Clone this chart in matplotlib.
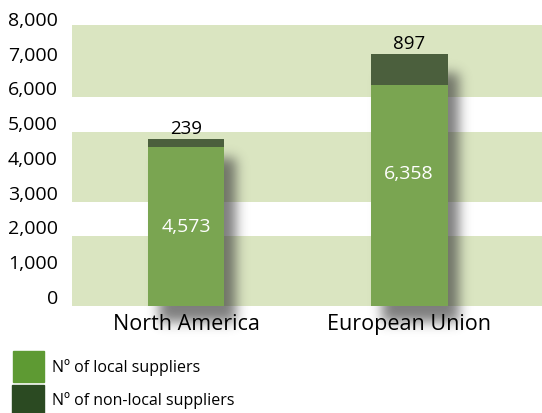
import numpy as np
import matplotlib
matplotlib.use("Agg")
import matplotlib.pyplot as plt
from matplotlib.transforms import ScaledTranslation

categories = ["North America", "European Union"]
local_suppliers = [4573, 6358]
nonlocal_suppliers = [239, 897]
local_labels = ["4,573", "6,358"]
nonlocal_labels = ["239", "897"]
yticks = [0, 1000, 2000, 3000, 4000, 5000, 6000, 7000, 8000]
ytick_labels = ["0", "1,000", "2,000", "3,000", "4,000", "5,000", "6,000", "7,000", "8,000"]
legend_labels = ["Nº of local suppliers", "Nº of non-local suppliers"]

plt.rcParams['font.family'] = ['Open Sans', 'DejaVu Sans']

W, H = 542, 414
fig = plt.figure(figsize=(W / 100, H / 100), dpi=100)
rect = [72 / W, (H - 307) / H, (W - 72) / W, (307 - 26) / H]
YMAX = 8080
XL = (-0.511, 1.596)

# background axes with bands
axb = fig.add_axes(rect, zorder=0)
axb.set_ylim(0, YMAX)
axb.set_xlim(*XL)
band = "#dae5c1"
for lo, hi in [(0, 2000), (3000, 5000), (6000, YMAX)]:
    axb.axhspan(lo, hi, color=band, lw=0)
axb.axis('off')

ax = fig.add_axes(rect, zorder=2)
ax.patch.set_visible(False)
ax.set_ylim(0, YMAX)
ax.set_xlim(*XL)

x = np.arange(len(categories))
bw = 0.345
c_local = "#7aa551"
c_non = "#4b5f3d"
b1 = ax.bar(x, local_suppliers, bw, color=c_local, zorder=3)
b2 = ax.bar(x, nonlocal_suppliers, bw, bottom=local_suppliers, color=c_non, zorder=3)

# blurred drop shadow computed from the bars' pixel extents
fig.canvas.draw()
alpha = np.zeros((H, W))
for r1, r2 in zip(b1, b2):
    bb = r1.get_window_extent()
    tb = r2.get_window_extent()
    x0, x1 = bb.x0 + 12, bb.x1 + 12
    ytop = H - tb.y1 + 20
    ybot = H - bb.y0 + 16
    alpha[int(ytop):int(ybot), int(x0):int(x1)] = 1.0
sig = 6
k = np.arange(-3 * sig, 3 * sig + 1)
g = np.exp(-k**2 / (2 * sig**2)); g /= g.sum()
alpha = np.apply_along_axis(lambda r: np.convolve(r, g, mode='same'), 1, alpha)
alpha = np.apply_along_axis(lambda c: np.convolve(c, g, mode='same'), 0, alpha)
rgba = np.zeros((H, W, 4))
rgba[..., :3] = 0.22
rgba[..., 3] = alpha * 0.65
fig.figimage(rgba, 0, 0, origin='upper', zorder=1)

for i in range(len(categories)):
    tot = local_suppliers[i] + nonlocal_suppliers[i]
    ax.text(x[i], tot + 50, nonlocal_labels[i], ha='center', va='bottom',
            fontsize=13.5, color='black', zorder=4)
ax.text(x[0], local_suppliers[0] * 0.5, local_labels[0], ha='center', va='center',
        fontsize=14, color='white', zorder=4)
ax.text(x[1], local_suppliers[1] * 0.6, local_labels[1], ha='center', va='center',
        fontsize=14, color='white', zorder=4)

# y tick labels, drawn slightly above their gridline positions as in the reference
ax.set_yticks(yticks)
ax.set_yticklabels([])
ax.tick_params(axis='y', length=0)
off = ScaledTranslation(-14 / 100, 8 / 100, fig.dpi_scale_trans)
ytr = ax.get_yaxis_transform() + off
for v, lab in zip(yticks, ytick_labels):
    ax.text(0, v, lab, transform=ytr, ha='right', va='center', fontsize=14,
            color='#000000', clip_on=False, zorder=5)

ax.set_xticks(x)
ax.set_xticklabels(categories, fontsize=15.5, color='#000000')
ax.tick_params(axis='x', length=0, pad=5)
for s in ax.spines.values():
    s.set_visible(False)

# legend
leg_colors = ["#5e9a33", "#2b4a22"]
boxes = [(13, 352, 31, 31), (12, 386, 32, 28)]
centers = [368, 401]
for (bx, by, bwid, bh), col, lab, cy in zip(boxes, leg_colors, legend_labels, centers):
    fig.patches.append(plt.Rectangle((bx / W, 1 - (by + bh) / H), bwid / W, bh / H,
                                     transform=fig.transFigure, color=col, figure=fig))
    fig.text(52 / W, 1 - cy / H, lab, fontsize=11.5, va='center', ha='left',
             color='#000000')

fig.savefig("out.png", dpi=100)
